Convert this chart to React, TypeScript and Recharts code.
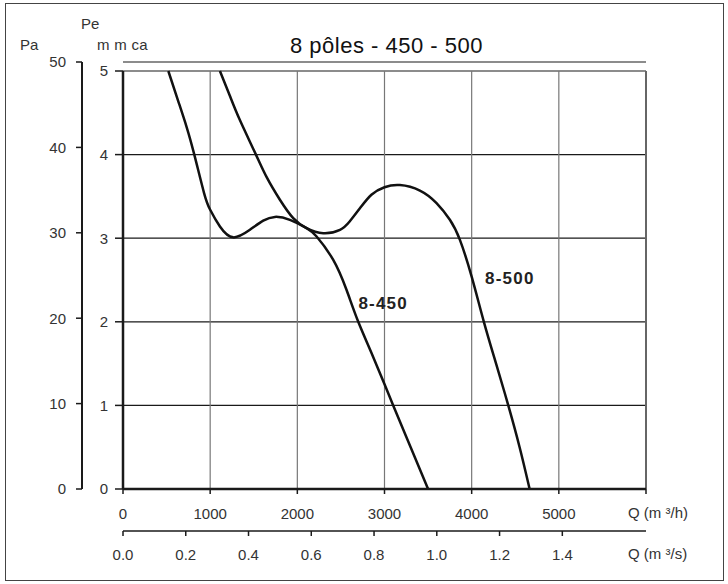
import {
  CartesianGrid,
  Line,
  LineChart,
  ReferenceDot,
  ReferenceLine,
  XAxis,
  YAxis,
} from "recharts";

// 8-450 curve, Q in m3/h, Pe in mmca
const q450 = [520, 640, 730, 818, 930, 1000, 1112, 1265, 1456, 1609, 1743, 1915, 2106, 2221, 2412, 2565, 2699, 2870, 3100, 3300, 3500];
const p450 = [5.0, 4.62, 4.33, 4.0, 3.54, 3.34, 3.14, 3.01, 3.1, 3.21, 3.255, 3.22, 3.12, 3.02, 2.74, 2.38, 2.0, 1.58, 1.0, 0.5, 0];

// 8-500 curve
const q500 = [1112, 1227, 1342, 1525, 1648, 1800, 1953, 2106, 2297, 2489, 2600, 2720, 2850, 3000, 3177, 3406, 3597, 3750, 3865, 4000, 4140, 4280, 4420, 4550, 4665];
const p500 = [5.0, 4.7, 4.41, 4.0, 3.73, 3.46, 3.24, 3.12, 3.06, 3.1, 3.2, 3.36, 3.52, 3.61, 3.635, 3.57, 3.42, 3.22, 2.98, 2.54, 2.0, 1.5, 1.0, 0.5, 0];

const qTicks = [0, 1000, 2000, 3000, 4000, 5000, 6000];
const qsTicks = [0, 0.2, 0.4, 0.6, 0.8, 1.0, 1.2, 1.4];
const mmTicks = [0, 1, 2, 3, 4, 5];
const paTicks = [0, 10, 20, 30, 40, 50];
const gridQ = [1000, 2000, 3000, 4000, 5000];

// the m3/s and Pa axes only rescale the same chart; this keeps them populated
const qsMax = 6000 / 3600;
const scaleData = [
  { qs: 0, pa: 0 },
  { qs: qsMax, pa: 50 },
];

const FONT = "'Liberation Sans', Arial, sans-serif";
const INK = "#1a1a1a";
const TXT = "#333";

const toPoints = (q: number[], p: number[]) => q.map((v, i) => ({ q: v, p: p[i] }));
const data450 = toPoints(q450, p450);
const data500 = toPoints(q500, p500);

const curveLabel = (text: string) => (props: any) => (
  <text
    x={props.cx}
    y={props.cy}
    textAnchor="middle"
    dominantBaseline="central"
    fontFamily={FONT}
    fontWeight="bold"
    fontSize={17}
    letterSpacing={1.2}
    fill="#222"
  >
    {text}
  </text>
);

const abs = (left: number, top: number, size: number): React.CSSProperties => ({
  position: "absolute",
  left,
  top,
  fontSize: size,
  lineHeight: `${size}px`,
  fontFamily: FONT,
  color: TXT,
  whiteSpace: "nowrap",
});

export default function App() {
  const tick = { fontSize: 15, fontFamily: FONT, fill: TXT };
  return (
    <div style={{ position: "absolute", left: 0, top: 0, width: 728, height: 584, background: "#fff" }}>
      <div
        style={{
          position: "absolute",
          left: 5,
          top: 3,
          width: 719,
          height: 578,
          boxSizing: "border-box",
          border: "1.5px solid #444",
        }}
      />
      <LineChart
        width={728}
        height={584}
        margin={{ top: 62, right: 82, bottom: 13, left: 10 }}
        style={{ position: "absolute", left: 0, top: 0 }}
      >
        <CartesianGrid xAxisId="h" yAxisId="mm" vertical={false} stroke={INK} strokeWidth={1.2} />
        <XAxis
          xAxisId="h"
          dataKey="q"
          type="number"
          domain={[0, 6000]}
          ticks={qTicks}
          interval={0}
          height={42}
          tickSize={5}
          tickMargin={14}
          axisLine={{ stroke: INK, strokeWidth: 2.5 }}
          tickLine={{ stroke: INK, strokeWidth: 1.5 }}
          tick={tick}
          tickFormatter={(v: number) => (v === 6000 ? "" : String(v))}
        />
        <XAxis
          xAxisId="s"
          dataKey="qs"
          type="number"
          domain={[0, qsMax]}
          allowDataOverflow
          ticks={qsTicks}
          interval={0}
          height={40}
          tickSize={5}
          tickMargin={13}
          axisLine={{ stroke: INK, strokeWidth: 1.5 }}
          tickLine={{ stroke: INK, strokeWidth: 1.5 }}
          tick={tick}
          tickFormatter={(v: number) => v.toFixed(1)}
        />
        <YAxis
          yAxisId="mm"
          type="number"
          domain={[0, (5 * 427) / 418]}
          allowDataOverflow
          ticks={mmTicks}
          interval={0}
          width={41}
          tickSize={8}
          tickMargin={7}
          axisLine={false}
          tickLine={{ stroke: INK, strokeWidth: 1.5 }}
          tick={tick}
        />
        <YAxis
          yAxisId="pa"
          type="number"
          domain={[0, 50]}
          allowDataOverflow
          ticks={paTicks}
          interval={0}
          width={72}
          tickSize={6}
          tickMargin={10}
          axisLine={{ stroke: INK, strokeWidth: 2 }}
          tickLine={{ stroke: INK, strokeWidth: 1.5 }}
          tick={tick}
        />
        {gridQ.map((g) => (
          <ReferenceLine
            key={g}
            xAxisId="h"
            yAxisId="mm"
            segment={[{ x: g, y: 0 }, { x: g, y: 5 }]}
            stroke="#777"
            strokeWidth={1.2}
          />
        ))}
        <ReferenceLine
          xAxisId="h"
          yAxisId="mm"
          segment={[{ x: 6000, y: 0 }, { x: 6000, y: 5 }]}
          stroke="#666"
          strokeWidth={2}
        />
        <ReferenceLine
          xAxisId="h"
          yAxisId="mm"
          segment={[{ x: 0, y: 0 }, { x: 0, y: 5 }]}
          stroke={INK}
          strokeWidth={2.5}
        />
        <Line
          xAxisId="s"
          yAxisId="pa"
          data={scaleData}
          dataKey="pa"
          stroke="none"
          dot={false}
          activeDot={false}
          legendType="none"
          isAnimationActive={false}
        />
        <Line
          xAxisId="h"
          yAxisId="mm"
          data={data450}
          dataKey="p"
          type="natural"
          dot={false}
          stroke="#111"
          strokeWidth={2.5}
          isAnimationActive={false}
        />
        <Line
          xAxisId="h"
          yAxisId="mm"
          data={data500}
          dataKey="p"
          type="natural"
          dot={false}
          stroke="#111"
          strokeWidth={2.5}
          isAnimationActive={false}
        />
        <ReferenceDot xAxisId="h" yAxisId="mm" x={2985} y={2.22} r={0} shape={curveLabel("8-450")} />
        <ReferenceDot xAxisId="h" yAxisId="mm" x={4438} y={2.52} r={0} shape={curveLabel("8-500")} />
      </LineChart>
      <div style={{ ...abs(290, 35, 22), color: "#111", letterSpacing: 0.5 }}>8 pôles - 450 - 500</div>
      <div style={abs(81, 16, 15)}>Pe</div>
      <div style={abs(20, 37, 15)}>Pa</div>
      <div style={{ ...abs(97, 37, 15), letterSpacing: 0.3 }}>m m ca</div>
      <div style={abs(628, 505, 15)}>Q (m ³/h)</div>
      <div style={abs(628, 546, 15)}>Q (m ³/s)</div>
    </div>
  );
}
